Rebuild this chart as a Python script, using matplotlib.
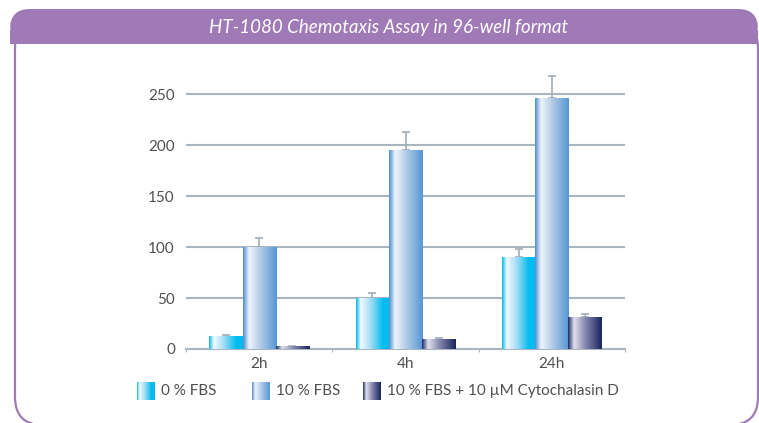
import numpy as np
import matplotlib
matplotlib.use('Agg')
import matplotlib.pyplot as plt
from matplotlib.colors import LinearSegmentedColormap
from matplotlib.patches import FancyBboxPatch, Rectangle

plt.rcParams['font.family'] = ['Lato', 'DejaVu Sans']

title = 'HT-1080 Chemotaxis Assay in 96-well format'
categories = ['2h', '4h', '24h']
series_names = ['0 % FBS', '10 % FBS', '10 % FBS + 10 µM Cytochalasin D']
fbs0 = [12, 50, 90]
fbs10 = [100, 195, 246]
cyto = [2, 9, 31]
fbs0_err = [1.5, 5, 8]
fbs10_err = [9, 18, 22]
cyto_err = [0.5, 2, 3]
yticks = [0, 50, 100, 150, 200, 250]

purple = '#a07ab6'
grid_c = '#a9b6c0'
text_c = '#505050'

cmaps = [
    LinearSegmentedColormap.from_list('cy', [(0, '#00b6ea'), (0.14, '#f4fbff'),
                                             (0.45, '#9fdbf5'), (0.8, '#00bdf0'), (1, '#00bbee')]),
    LinearSegmentedColormap.from_list('bl', [(0, '#4a8bcd'), (0.18, '#f0f5fb'),
                                             (0.5, '#b4cce8'), (1, '#5596d4')]),
    LinearSegmentedColormap.from_list('nv', [(0, '#1b2865'), (0.18, '#e2e2ee'),
                                             (0.5, '#8a8ab0'), (1, '#19235e')]),
]
grad = np.linspace(0, 1, 256).reshape(1, -1)

W, H = 759, 423
fig = plt.figure(figsize=(W / 100, H / 100), dpi=100)

# frame, pixel coords with y measured from the bottom
bg = fig.add_axes([0, 0, 1, 1])
bg.set_xlim(0, W)
bg.set_ylim(0, H)
bg.axis('off')
bg.add_patch(FancyBboxPatch((15, H - 425), 743, 405, boxstyle='round,pad=0,rounding_size=28',
                            fc='none', ec=purple, lw=1.6))
bg.add_patch(FancyBboxPatch((10, H - 44), 748, 35, boxstyle='round,pad=0,rounding_size=20',
                            fc=purple, ec='none'))
bg.add_patch(Rectangle((10, H - 44), 748, 14, fc=purple, ec='none'))
bg.text(389, H - 27, title, color='white', fontsize=13.5, style='italic',
        ha='center', va='center')

# chart
ax = fig.add_axes([186 / W, 1 - 349 / H, (625 - 186) / W, (349 - 73.6) / H])
for s in ['top', 'right', 'left']:
    ax.spines[s].set_visible(False)
ax.spines['bottom'].set_color(grid_c)
ax.spines['bottom'].set_linewidth(1.5)
ax.set_yticks(yticks)
ax.tick_params(axis='y', length=0, labelsize=11, labelcolor=text_c, pad=8)
for v in yticks[1:]:
    ax.axhline(v, color=grid_c, lw=1.5, zorder=1)
ax.set_xticks([0, 1, 2, 3])
ax.set_xticklabels([])
ax.tick_params(axis='x', length=2.5, color=grid_c, width=0.8)
for i, c in enumerate(categories):
    ax.text(i + 0.5, -8, c, ha='center', va='top', fontsize=11, color=text_c)

bw = 0.227
data = [fbs0, fbs10, cyto]
errs = [fbs0_err, fbs10_err, cyto_err]
for j, (vals, ev) in enumerate(zip(data, errs)):
    for i, v in enumerate(vals):
        x0 = i + 0.5 + (j - 1.5) * bw
        ax.imshow(grad, cmap=cmaps[j], extent=(x0, x0 + bw, 0, v), aspect='auto',
                  zorder=3, interpolation='bicubic')
        ax.errorbar(x0 + bw / 2, v, yerr=[[0], [ev[i]]], color='#a3adb5', lw=1.2,
                    capsize=3, capthick=1.2, zorder=2)
ax.set_xlim(0, 3)
ax.set_ylim(0, 270)

# legend
sw_x = [137, 252, 363]
for j, name in enumerate(series_names):
    lax = fig.add_axes([sw_x[j] / W, 1 - 400 / H, 18 / W, 18 / H])
    lax.imshow(grad, cmap=cmaps[j], aspect='auto', interpolation='bicubic')
    lax.axis('off')
    fig.text((sw_x[j] + 24) / W, 1 - 391 / H, name, fontsize=11, color=text_c,
             ha='left', va='center')

fig.savefig('out.png', dpi=100)
